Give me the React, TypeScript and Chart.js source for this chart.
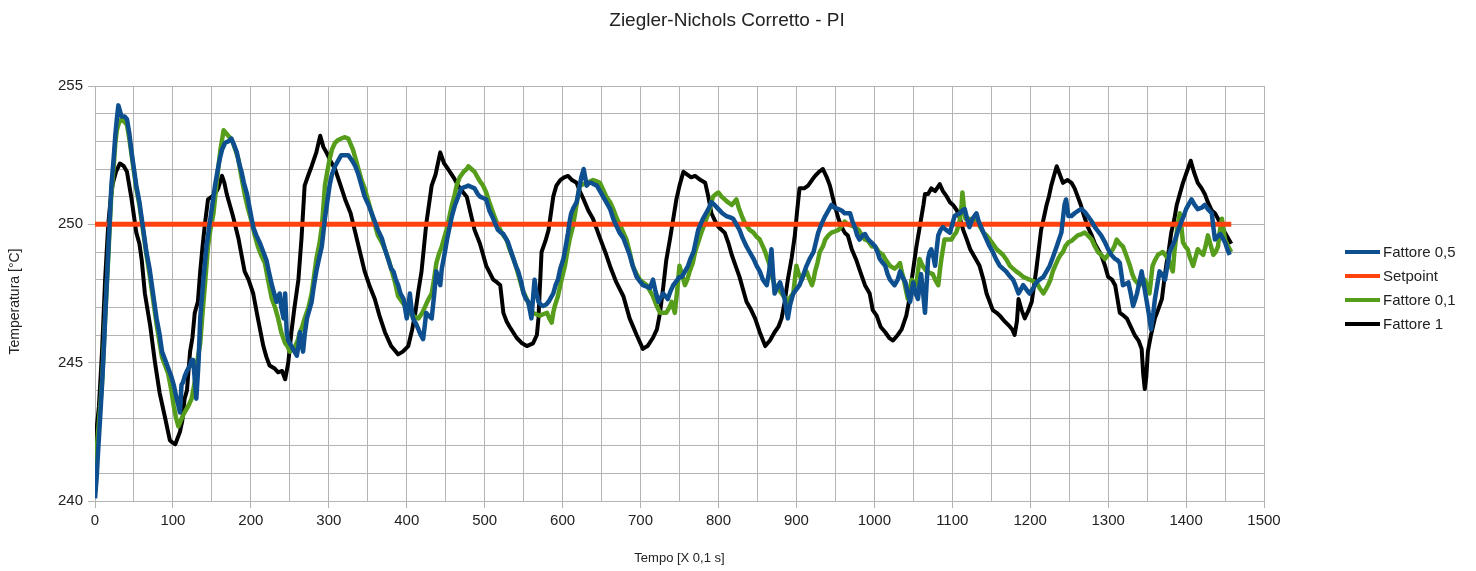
import React, { useEffect, useRef } from 'react';
import { Chart, registerables } from 'chart.js';

Chart.register(...registerables);

const FONT = "'Liberation Sans', Arial, sans-serif";

const chartTitle = 'Ziegler-Nichols Corretto - PI';
const xAxisTitle = 'Tempo [X 0,1 s]';
const yAxisTitle = 'Temperatura [°C]';

const seriesNames = ['Fattore 0,5', 'Setpoint', 'Fattore 0,1', 'Fattore 1'];
const seriesColors = ['#0e4f8f', '#ff420e', '#579d1c', '#000000'];
const seriesWidths = [4.5, 5, 4.5, 4];

const xMin = 0;
const xMax = 1500;
const xStep = 50;
const xLabelEvery = 100;
const yMin = 240;
const yMax = 255;
const yStep = 1;
const yLabelEvery = 5;

// [time, temperature]
const fattore05: number[][] = [
  [0,240.1],[2,240.8],[4,241.8],[7,243.2],[9,244.2],[11,245.3],[13,246.6],[15,247.8],[17,249.0],[19,250.2],[21,251.4],[24,252.4],[26,253.2],[28,253.8],[30,254.3],[32,254.1],[34,253.9],[38,253.9],[41,253.8],[44,253.3],[47,252.6],[50,252.0],[53,251.4],[57,250.8],[60,250.2],[63,249.6],[66,249.0],[70,248.4],[73,247.8],[76,247.2],[79,246.6],[83,246.0],[86,245.4],[90,245.1],[94,244.8],[98,244.5],[101,244.2],[104,243.8],[107,243.45],[109,243.2],[111,244.2],[113,244.3],[115,244.5],[118,244.7],[122,244.9],[124,245.1],[126,245.1],[128,244.4],[130,243.7],[132,244.6],[133,245.1],[135,246.6],[137,247.3],[139,248.0],[141,248.6],[143,249.2],[146,249.8],[148,250.2],[151,250.8],[154,251.4],[157,251.9],[160,252.35],[163,252.7],[167,252.95],[171,253.0],[175,253.1],[178,252.9],[182,252.6],[185,252.2],[188,251.9],[191,251.5],[195,251.1],[199,250.5],[203,249.9],[207,249.6],[212,249.3],[216,249.0],[220,248.7],[223,248.3],[227,247.8],[230,247.5],[233,247.2],[235,247.4],[237,247.5],[239,247.0],[242,246.6],[244,247.5],[246,246.1],[248,245.8],[252,245.6],[256,245.4],[259,245.25],[261,245.6],[263,246.1],[265,245.7],[267,245.4],[269,246.0],[272,246.6],[275,246.9],[278,247.2],[281,247.8],[284,248.3],[287,248.7],[291,249.2],[293,249.7],[295,250.2],[298,250.8],[301,251.4],[304,251.8],[308,252.1],[312,252.3],[316,252.5],[320,252.5],[325,252.5],[330,252.3],[334,252.1],[338,251.8],[342,251.4],[346,251.0],[351,250.7],[355,250.4],[359,250.1],[363,249.8],[368,249.5],[372,249.1],[376,248.75],[380,248.4],[383,248.3],[386,248.0],[389,247.8],[392,247.5],[396,247.3],[400,246.6],[402,247.0],[404,247.5],[406,247.0],[408,246.6],[412,246.4],[415,246.2],[418,246.0],[421,245.85],[423,246.3],[425,246.8],[428,246.7],[432,246.6],[435,247.4],[438,248.3],[441,248.0],[443,247.8],[445,248.4],[449,249.0],[452,249.5],[455,249.9],[458,250.3],[462,250.7],[466,251.0],[470,251.3],[475,251.35],[479,251.4],[483,251.35],[487,251.3],[491,251.1],[494,251.0],[498,250.95],[502,250.9],[506,250.5],[511,250.2],[514,250.0],[517,249.8],[521,249.7],[524,249.65],[527,249.5],[530,249.35],[534,249.0],[537,248.75],[540,248.5],[543,248.3],[547,247.9],[550,247.5],[553,247.3],[556,247.2],[558,246.9],[560,246.6],[562,247.3],[564,248.0],[566,247.6],[569,247.2],[572,247.1],[575,247.05],[579,247.1],[582,247.2],[585,247.35],[588,247.5],[591,247.8],[594,248.0],[597,248.4],[601,248.75],[604,249.2],[607,249.7],[609,250.1],[611,250.4],[614,250.6],[618,250.8],[620,251.1],[622,251.4],[624,251.7],[627,252.0],[629,251.7],[631,251.4],[634,251.5],[637,251.5],[640,251.45],[644,251.4],[648,251.2],[652,251.0],[656,250.8],[661,250.55],[665,250.2],[669,249.95],[673,249.7],[678,249.5],[682,249.2],[686,248.9],[690,248.5],[695,248.1],[699,247.95],[703,247.8],[708,247.75],[712,247.7],[716,248.0],[719,247.6],[723,247.2],[726,247.35],[729,247.5],[732,247.4],[735,247.3],[738,247.55],[742,247.8],[746,247.95],[750,248.1],[753,248.1],[757,248.3],[761,248.5],[764,248.75],[768,249.0],[771,249.4],[774,249.8],[777,250.0],[780,250.2],[784,250.4],[787,250.55],[791,250.8],[795,250.7],[800,250.55],[805,250.4],[810,250.3],[815,250.25],[819,250.2],[823,250.0],[827,249.8],[831,249.5],[836,249.2],[840,249.0],[845,248.75],[849,248.5],[853,248.3],[857,248.0],[862,247.8],[865,248.3],[868,249.1],[870,248.2],[872,247.5],[875,247.7],[879,247.9],[882,247.6],[885,247.3],[887,246.9],[889,246.6],[892,247.1],[896,247.5],[900,247.65],[904,247.8],[908,248.1],[913,248.5],[917,248.75],[922,249.0],[925,249.35],[928,249.7],[932,250.0],[937,250.3],[941,250.5],[945,250.7],[949,250.6],[954,250.55],[958,250.5],[962,250.4],[966,250.4],[969,250.4],[972,250.1],[975,249.9],[978,249.6],[981,249.45],[985,249.6],[988,249.65],[991,249.5],[994,249.4],[998,249.3],[1001,249.2],[1004,249.0],[1007,248.75],[1011,248.6],[1014,248.5],[1017,248.2],[1020,248.0],[1023,247.9],[1026,247.8],[1030,248.0],[1033,248.3],[1036,248.1],[1040,247.9],[1043,247.5],[1046,247.2],[1048,247.6],[1050,247.9],[1053,247.5],[1056,247.3],[1058,247.8],[1060,248.2],[1063,247.4],[1065,246.8],[1067,247.8],[1069,248.75],[1071,249.0],[1073,249.1],[1076,248.8],[1078,248.5],[1080,249.1],[1082,249.6],[1085,249.8],[1088,249.9],[1092,249.8],[1097,249.7],[1100,250.0],[1103,250.3],[1106,250.35],[1110,250.4],[1113,250.5],[1116,250.55],[1119,250.2],[1122,249.9],[1126,250.2],[1131,250.4],[1134,250.1],[1137,249.9],[1140,249.7],[1144,249.45],[1148,249.2],[1152,249.0],[1156,248.75],[1161,248.5],[1165,248.4],[1169,248.3],[1173,248.15],[1178,248.0],[1181,247.8],[1185,247.5],[1188,247.65],[1191,247.8],[1195,247.65],[1199,247.5],[1204,247.7],[1208,247.9],[1212,248.0],[1217,248.1],[1221,248.3],[1225,248.5],[1229,248.8],[1234,249.2],[1237,249.45],[1240,249.7],[1242,250.2],[1244,250.7],[1246,250.9],[1249,250.3],[1253,250.3],[1257,250.4],[1262,250.5],[1266,250.55],[1270,250.45],[1274,250.3],[1279,250.1],[1283,249.9],[1287,249.75],[1291,249.6],[1296,249.35],[1300,249.1],[1304,248.9],[1309,248.75],[1312,248.7],[1315,248.6],[1317,248.2],[1319,247.8],[1323,247.85],[1326,247.9],[1329,247.5],[1332,247.05],[1335,247.3],[1337,247.5],[1340,247.9],[1343,248.3],[1346,247.8],[1349,247.3],[1352,246.8],[1355,246.2],[1358,246.8],[1360,247.3],[1363,247.8],[1366,248.3],[1369,248.2],[1373,248.0],[1376,248.5],[1379,249.0],[1382,249.2],[1386,249.45],[1390,249.8],[1394,250.1],[1397,250.3],[1400,250.55],[1403,250.7],[1407,250.9],[1411,250.7],[1415,250.55],[1420,250.6],[1424,250.7],[1428,250.55],[1433,250.4],[1435,249.9],[1437,249.45],[1440,249.55],[1444,249.65],[1447,249.5],[1450,249.35],[1453,249.1],[1456,248.9]
];

const setpoint: number[][] = [
  [0,250],[1458,250]
];

const fattore01: number[][] = [
  [0,241.3],[2,241.8],[4,242.5],[7,243.5],[9,244.3],[11,245.4],[13,246.6],[15,247.7],[17,248.8],[19,250.0],[21,251.1],[24,252.1],[26,252.9],[28,253.4],[31,253.7],[34,253.8],[38,253.7],[41,253.6],[44,253.1],[47,252.5],[50,251.9],[53,251.3],[57,250.7],[60,250.1],[63,249.5],[66,248.9],[70,248.2],[73,247.6],[76,247.0],[79,246.4],[83,245.7],[86,245.2],[90,244.9],[94,244.6],[98,244.0],[101,243.45],[104,243.0],[107,242.7],[110,242.9],[113,243.1],[117,243.3],[120,243.45],[124,243.7],[126,244.0],[128,244.3],[131,245.0],[135,245.7],[138,246.8],[141,247.8],[143,248.5],[145,249.2],[148,249.8],[152,250.4],[155,251.2],[158,252.0],[161,252.7],[165,253.4],[168,253.3],[171,253.2],[174,253.1],[177,252.95],[180,252.7],[184,252.35],[188,251.7],[192,251.1],[196,250.6],[201,250.1],[205,249.6],[209,249.2],[213,248.9],[218,248.6],[222,248.0],[227,247.3],[231,247.0],[235,246.6],[239,246.1],[244,245.7],[247,245.6],[250,245.4],[254,245.5],[257,245.6],[260,245.8],[263,246.1],[266,246.3],[269,246.6],[274,247.0],[278,247.5],[281,248.1],[284,248.75],[288,249.3],[291,249.9],[293,250.6],[295,251.4],[298,251.9],[301,252.35],[304,252.7],[308,252.95],[312,253.05],[316,253.1],[320,253.15],[325,253.1],[328,252.9],[331,252.7],[335,252.3],[338,252.0],[342,251.6],[346,251.3],[351,250.8],[355,250.4],[359,250.0],[363,249.6],[368,249.35],[372,249.1],[377,248.7],[381,248.3],[385,247.9],[389,247.4],[394,247.2],[398,247.05],[402,246.9],[407,246.7],[411,246.65],[415,246.6],[420,246.8],[424,247.05],[428,247.3],[432,247.5],[435,248.0],[438,248.6],[441,248.9],[445,249.2],[448,249.5],[451,249.8],[455,250.3],[458,250.7],[461,251.0],[464,251.4],[468,251.7],[473,251.9],[477,252.0],[479,252.1],[483,252.0],[487,251.9],[491,251.7],[494,251.55],[498,251.4],[502,251.15],[506,250.8],[511,250.4],[515,250.1],[520,249.8],[524,249.6],[528,249.45],[532,249.1],[537,248.75],[541,248.4],[545,248.0],[549,247.6],[554,247.3],[558,247.0],[562,246.8],[566,246.75],[571,246.7],[575,246.75],[580,246.8],[583,246.6],[586,246.45],[588,246.8],[590,247.05],[594,247.4],[597,247.8],[600,248.15],[603,248.5],[606,249.0],[609,249.45],[613,249.9],[616,250.4],[619,250.9],[622,251.4],[627,251.45],[631,251.5],[635,251.55],[639,251.6],[644,251.55],[648,251.5],[652,251.25],[656,251.0],[661,250.8],[665,250.55],[669,250.25],[674,249.95],[678,249.7],[682,249.45],[686,249.0],[690,248.5],[695,248.2],[699,248.0],[703,247.9],[708,247.8],[712,247.6],[716,247.4],[720,247.1],[725,246.8],[729,246.8],[733,246.8],[737,247.0],[740,247.2],[744,246.8],[747,247.6],[750,248.5],[754,248.1],[757,247.8],[760,248.0],[763,248.3],[767,248.6],[770,249.0],[774,249.35],[778,249.7],[782,250.0],[787,250.4],[790,250.7],[793,251.0],[797,251.1],[800,251.15],[804,251.0],[808,250.9],[812,250.8],[817,250.7],[820,250.8],[823,250.9],[826,250.6],[830,250.3],[833,250.1],[836,249.95],[840,249.8],[845,249.7],[849,249.55],[853,249.45],[857,249.2],[860,249.0],[863,248.75],[866,248.5],[869,248.1],[872,247.8],[877,247.65],[881,247.5],[885,247.35],[889,247.2],[893,247.4],[896,247.5],[898,248.0],[900,248.5],[903,248.2],[907,248.0],[910,248.2],[913,248.3],[917,248.0],[920,247.8],[922,248.0],[924,248.3],[927,248.6],[930,249.0],[934,249.2],[937,249.45],[941,249.6],[945,249.7],[950,249.75],[954,249.8],[958,249.95],[962,250.1],[966,250.0],[971,249.95],[975,249.9],[980,249.8],[984,249.6],[988,249.45],[992,249.4],[997,249.2],[1001,249.2],[1006,249.0],[1011,248.9],[1015,248.7],[1020,248.5],[1026,248.4],[1030,248.5],[1033,248.6],[1035,248.3],[1037,248.1],[1040,247.7],[1043,247.3],[1046,247.7],[1048,248.0],[1051,247.9],[1054,247.8],[1056,248.3],[1058,248.75],[1062,248.5],[1067,248.3],[1071,248.25],[1075,248.2],[1078,248.0],[1082,247.8],[1084,248.3],[1086,248.75],[1088,249.1],[1090,249.45],[1095,249.45],[1099,249.45],[1102,249.6],[1105,249.7],[1108,249.95],[1110,250.2],[1112,250.7],[1113,251.15],[1115,250.6],[1117,250.2],[1122,250.2],[1127,250.15],[1131,250.1],[1136,249.9],[1140,249.7],[1144,249.6],[1148,249.45],[1152,249.3],[1157,249.1],[1161,249.0],[1165,248.9],[1170,248.7],[1174,248.5],[1178,248.4],[1182,248.3],[1187,248.2],[1191,248.1],[1195,248.05],[1199,248.0],[1204,247.95],[1208,247.9],[1212,247.7],[1217,247.5],[1220,247.65],[1223,247.8],[1226,248.0],[1229,248.3],[1232,248.5],[1236,248.75],[1239,248.9],[1242,249.0],[1245,249.2],[1249,249.35],[1253,249.4],[1257,249.5],[1261,249.6],[1266,249.65],[1270,249.7],[1274,249.6],[1279,249.45],[1283,249.2],[1287,249.0],[1291,248.9],[1296,248.75],[1300,248.9],[1304,249.0],[1308,249.2],[1311,249.45],[1315,249.3],[1319,249.2],[1323,248.9],[1328,248.5],[1331,248.2],[1334,248.0],[1337,247.9],[1340,247.8],[1344,247.9],[1347,248.0],[1350,247.8],[1353,247.5],[1355,248.0],[1357,248.5],[1360,248.7],[1364,248.9],[1367,248.95],[1370,249.0],[1373,248.9],[1377,248.75],[1380,248.5],[1383,248.3],[1385,249.0],[1388,249.7],[1390,250.1],[1392,250.4],[1394,249.9],[1396,249.35],[1399,249.2],[1402,249.1],[1405,248.8],[1409,248.5],[1412,248.8],[1415,249.1],[1418,249.0],[1422,248.9],[1425,249.2],[1428,249.6],[1431,249.3],[1435,248.9],[1438,249.0],[1441,249.2],[1443,249.7],[1446,250.2],[1448,249.8],[1450,249.45],[1454,249.2],[1458,249.0]
];

const fattore1: number[][] = [
  [0,241.6],[2,242.6],[5,243.4],[9,245.4],[13,248.0],[17,250.0],[20,250.9],[23,251.5],[27,251.9],[32,252.2],[37,252.1],[41,251.9],[47,250.9],[53,249.7],[57,249.3],[60,248.7],[64,247.5],[71,246.3],[77,245.0],[83,243.9],[90,243.0],[96,242.2],[100,242.1],[103,242.05],[109,242.5],[112,242.9],[115,243.7],[118,244.0],[122,245.4],[125,245.9],[128,246.8],[132,247.2],[135,248.3],[138,249.2],[141,250.0],[145,250.9],[150,251.0],[154,251.1],[158,251.3],[163,251.75],[166,251.5],[169,251.1],[173,250.7],[177,250.3],[184,249.5],[188,248.9],[192,248.3],[197,248.0],[203,247.5],[209,246.6],[216,245.6],[220,245.2],[224,244.9],[230,244.8],[235,244.65],[240,244.7],[244,244.4],[248,245.0],[252,246.1],[256,247.0],[261,248.0],[265,249.5],[269,251.4],[274,251.8],[278,252.1],[284,252.6],[289,253.2],[293,252.8],[297,252.6],[302,252.3],[308,252.0],[314,251.5],[321,250.9],[328,250.4],[334,249.7],[340,249.0],[346,248.3],[352,247.8],[359,247.3],[365,246.7],[372,246.1],[380,245.6],[389,245.3],[395,245.4],[402,245.6],[407,246.2],[411,246.8],[415,247.6],[419,248.3],[425,250.0],[432,251.4],[437,251.8],[443,252.6],[448,252.2],[453,252.0],[460,251.7],[466,251.4],[471,251.2],[477,251.0],[482,250.4],[487,249.8],[494,249.3],[502,248.5],[511,248.0],[516,247.9],[520,247.8],[524,246.8],[528,246.5],[532,246.3],[541,245.9],[548,245.7],[554,245.6],[562,245.7],[567,246.0],[569,246.6],[571,247.8],[573,249.0],[578,249.4],[582,249.8],[588,251.0],[592,251.4],[597,251.6],[602,251.7],[607,251.75],[612,251.6],[618,251.5],[622,251.2],[627,250.9],[633,250.5],[639,250.2],[648,249.5],[656,248.9],[662,248.4],[669,247.9],[678,247.4],[686,246.6],[695,246.0],[703,245.5],[709,245.6],[716,245.9],[721,246.2],[725,246.8],[729,247.7],[733,248.7],[738,249.5],[742,250.2],[746,250.9],[750,251.4],[755,251.9],[760,251.8],[765,251.7],[770,251.75],[777,251.6],[783,251.5],[787,251.0],[791,250.4],[796,250.1],[800,249.9],[808,249.7],[813,249.3],[817,248.9],[822,248.5],[827,248.1],[832,247.6],[836,247.2],[842,246.9],[847,246.6],[853,246.1],[860,245.6],[866,245.8],[872,246.1],[877,246.3],[881,246.6],[885,247.2],[889,248.0],[894,248.8],[898,249.6],[901,250.5],[904,251.3],[910,251.3],[915,251.4],[920,251.6],[924,251.75],[929,251.9],[934,252.0],[939,251.7],[943,251.4],[949,250.7],[954,250.2],[958,249.9],[962,249.7],[966,249.6],[971,249.1],[977,248.7],[983,248.2],[988,247.8],[994,247.5],[998,246.9],[1003,246.7],[1008,246.3],[1014,246.1],[1019,245.9],[1024,245.8],[1030,246.0],[1035,246.2],[1041,246.7],[1045,247.3],[1048,248.0],[1051,248.6],[1054,249.2],[1057,249.7],[1060,250.2],[1063,250.7],[1065,251.1],[1069,251.1],[1073,251.3],[1078,251.2],[1084,251.45],[1088,251.2],[1093,251.0],[1097,250.8],[1101,250.7],[1106,250.5],[1110,250.2],[1114,249.8],[1118,249.5],[1123,249.1],[1127,248.9],[1131,248.7],[1135,248.5],[1140,248.0],[1144,247.5],[1148,247.2],[1152,246.9],[1157,246.8],[1161,246.7],[1167,246.5],[1174,246.3],[1177,246.2],[1180,246.0],[1183,246.5],[1185,247.3],[1189,246.9],[1193,246.6],[1198,246.9],[1202,247.2],[1205,247.8],[1208,248.4],[1211,249.1],[1214,249.8],[1218,250.3],[1221,250.7],[1224,251.0],[1227,251.4],[1231,251.8],[1234,252.1],[1238,251.8],[1242,251.5],[1248,251.6],[1253,251.5],[1257,251.3],[1261,251.0],[1265,250.7],[1268,250.4],[1274,249.9],[1279,249.6],[1283,249.3],[1287,249.1],[1291,248.9],[1296,248.5],[1300,248.1],[1305,248.0],[1309,247.8],[1312,247.3],[1315,246.8],[1320,246.7],[1324,246.6],[1329,246.3],[1334,246.0],[1339,245.8],[1343,245.5],[1345,244.6],[1347,244.05],[1349,244.5],[1351,245.4],[1355,246.0],[1360,246.6],[1364,246.9],[1369,247.3],[1372,248.0],[1375,248.6],[1378,249.1],[1381,249.7],[1385,250.2],[1388,250.7],[1392,251.1],[1396,251.5],[1401,251.9],[1406,252.3],[1410,251.9],[1415,251.5],[1420,251.3],[1424,251.1],[1428,250.8],[1433,250.5],[1437,250.4],[1441,250.2],[1446,249.9],[1450,249.7],[1454,249.5],[1458,249.3]
];

const seriesData = [fattore05, setpoint, fattore01, fattore1];

const GRID = '#b3b3b3';
const TEXT = '#222222';

const overlayPlugin = {
  id: 'overlay',
  afterDraw(chart: any) {
    const ctx = chart.ctx as CanvasRenderingContext2D;
    const area = chart.chartArea;
    ctx.save();
    ctx.fillStyle = TEXT;
    ctx.font = `19px ${FONT}`;
    ctx.textAlign = 'center';
    ctx.textBaseline = 'middle';
    ctx.fillText(chartTitle, chart.width / 2 - 11, 21);

    // y-axis title
    ctx.save();
    ctx.font = `14px ${FONT}`;
    ctx.translate(15, (area.top + area.bottom) / 2 + 8);
    ctx.rotate(-Math.PI / 2);
    ctx.fillText(yAxisTitle, 0, 0);
    ctx.restore();

    ctx.font = `15px ${FONT}`;
    ctx.textAlign = 'left';
    chart.data.datasets.forEach((ds: any, i: number) => {
      const y = 252 + i * 24;
      ctx.strokeStyle = ds.borderColor;
      ctx.lineWidth = 4;
      ctx.beginPath();
      ctx.moveTo(area.right + 81, y);
      ctx.lineTo(area.right + 116, y);
      ctx.stroke();
      ctx.fillStyle = TEXT;
      ctx.fillText(ds.label, area.right + 119, y + 1);
    });
    ctx.restore();
  },
};

export default function App() {
  const canvasRef = useRef<HTMLCanvasElement | null>(null);

  useEffect(() => {
    document.body.style.margin = '0';
    const canvas = canvasRef.current;
    if (!canvas) return;
    const chart = new Chart(canvas, {
      type: 'line',
      data: {
        datasets: seriesNames.map((name, i) => ({
          label: name,
          data: seriesData[i].map(([x, y]) => ({ x, y })),
          borderColor: seriesColors[i],
          backgroundColor: seriesColors[i],
          borderWidth: seriesWidths[i],
          pointRadius: 0,
          tension: 0,
          borderJoinStyle: 'round' as const,
          fill: false,
        })),
      },
      options: {
        animation: false,
        responsive: false,
        devicePixelRatio: 1,
        layout: { padding: { top: 86, right: 212, bottom: 0, left: 0 } },
        plugins: {
          legend: { display: false },
          title: { display: false },
          tooltip: { enabled: false },
        },
        scales: {
          x: {
            type: 'linear',
            min: xMin,
            max: xMax,
            afterFit: (s: any) => { s.height = 70; },
            ticks: {
              stepSize: xStep,
              autoSkip: false,
              maxRotation: 0,
              padding: 4,
              color: TEXT,
              font: { family: FONT, size: 15 },
              callback: (v: any) => (Number(v) % xLabelEvery === 0 ? String(v) : ''),
            },
            grid: {
              color: GRID,
              lineWidth: 1,
              tickLength: 7,
              tickColor: (c: any) => (c.tick && c.tick.value % xLabelEvery === 0 ? GRID : 'rgba(0,0,0,0)'),
            },
            border: { color: GRID },
            title: {
              display: true,
              text: xAxisTitle,
              color: TEXT,
              font: { family: FONT, size: 13 },
              padding: { top: 0, bottom: 5 },
            },
          },
          y: {
            type: 'linear',
            min: yMin,
            max: yMax,
            afterFit: (s: any) => { s.width = 95; },
            ticks: {
              stepSize: yStep,
              autoSkip: false,
              padding: 5,
              color: TEXT,
              font: { family: FONT, size: 15 },
              callback: (v: any) => (Number(v) % yLabelEvery === 0 ? String(v) : ''),
            },
            grid: {
              color: GRID,
              lineWidth: 1,
              tickLength: 7,
              tickColor: (c: any) => (c.tick && c.tick.value % yLabelEvery === 0 ? GRID : 'rgba(0,0,0,0)'),
            },
            border: { color: GRID },
            title: { display: false },
          },
        },
      },
      plugins: [overlayPlugin],
    });
    return () => chart.destroy();
  }, []);

  return (
    <canvas
      ref={canvasRef}
      width={1476}
      height={571}
      style={{ display: 'block', width: '1476px', height: '571px' }}
    />
  );
}
